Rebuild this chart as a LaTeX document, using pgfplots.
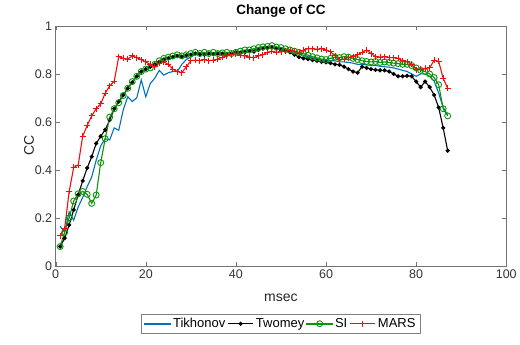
\documentclass[border=0pt]{standalone}
\usepackage{pgfplots}
\pgfplotsset{compat=1.18}
\usepackage{fontspec}
\setmainfont{Liberation Sans}

\definecolor{mblue}{rgb}{0,0.447,0.741}
\definecolor{mgreen}{rgb}{0.05,0.58,0.05}
\definecolor{mred}{rgb}{0.95,0.05,0.05}

% legend samples: a coloured stroke with one marker in the middle
\pgfplotsset{
  fill leg/.style={legend image code/.code={%
    \fill[#1] (0cm,-0.55pt) rectangle (0.9cm,0.55pt);
    \path[##1] plot coordinates {(0.45cm,0cm)};}},
  draw leg/.style={legend image code/.code={%
    \draw[#1, line width=1.1pt] (0cm,0cm) -- (0.9cm,0cm);
    \path[##1] plot coordinates {(0.45cm,0cm)};}},
}

\begin{document}
\begin{tikzpicture}
\begin{axis}[
  scale only axis,
  width=451pt, height=240pt,
  xmin=0, xmax=100, ymin=0, ymax=1,
  xtick={0,20,40,60,80,100},
  ytick={0,0.2,0.4,0.6,0.8,1},
  yticklabels={0,0.2,0.4,0.6,0.8,1},
  tick align=inside,
  tick pos=both,
  major tick length=4pt,
  axis line style={black!55},
  tick style={black!55},
  /pgf/number format/assume math mode=true,
  tick label style={font=\fontsize{12.5}{14}\selectfont, text=black!80},
  title={\bfseries Change of CC},
  title style={font=\fontsize{13.5}{15}\selectfont, yshift=-1pt},
  xlabel={msec}, ylabel={CC},
  label style={font=\fontsize{14}{16}\selectfont, text=black!85},
  xlabel style={yshift=-9pt},
  ylabel style={yshift=-6pt},
  legend columns=4,
  legend style={at={(0.5,-0.2417)}, anchor=center,
    font=\fontsize{13}{15}\selectfont, draw=black!50},
]
% Tikhonov
\addplot[mblue, line width=1.1pt, no marks, fill leg=mblue] coordinates {
(1,0.165)(2,0.14)(3,0.225)(4,0.19)(5,0.245)(6,0.285)(7,0.33)(8,0.37)(9,0.44)(10,0.5)
(11,0.53)(12,0.525)(13,0.575)(14,0.565)(15,0.65)(16,0.705)(17,0.685)(18,0.7)(19,0.775)(20,0.705)
(21,0.76)(22,0.782)(23,0.815)(24,0.795)(25,0.805)(26,0.81)(27,0.81)(28,0.84)(29,0.86)(30,0.87)
(31,0.882)(32,0.88)(33,0.885)(34,0.88)(35,0.885)(36,0.88)(37,0.883)(38,0.885)(39,0.88)(40,0.885)
(41,0.89)(42,0.895)(43,0.895)(44,0.9)(45,0.905)(46,0.908)(47,0.91)(48,0.912)(49,0.908)(50,0.905)
(51,0.9)(52,0.895)(53,0.89)(54,0.883)(55,0.878)(56,0.872)(57,0.866)(58,0.862)(59,0.858)(60,0.856)
(61,0.855)(62,0.855)(63,0.85)(64,0.85)(65,0.848)(66,0.845)(67,0.84)(68,0.84)(69,0.838)(70,0.835)
(71,0.835)(72,0.832)(73,0.83)(74,0.828)(75,0.825)(76,0.82)(77,0.815)(78,0.81)(79,0.8)(80,0.79)
(81,0.8)(82,0.8)(83,0.79)(84,0.77)(85,0.72)(86,0.66)(87,0.63)
};
\addlegendentry{Tikhonov}
% Twomey
\addplot[black, line width=1.1pt, mark=*, mark size=1.5pt, draw leg=black] coordinates {
(1,0.08)(2,0.115)(3,0.17)(4,0.233)(5,0.296)(6,0.354)(7,0.408)(8,0.455)(9,0.51)(10,0.54)
(11,0.567)(12,0.608)(13,0.655)(14,0.685)(15,0.712)(16,0.74)(17,0.765)(18,0.79)(19,0.81)(20,0.82)
(21,0.83)(22,0.84)(23,0.85)(24,0.86)(25,0.865)(26,0.87)(27,0.875)(28,0.872)(29,0.878)(30,0.88)
(31,0.885)(32,0.882)(33,0.88)(34,0.885)(35,0.882)(36,0.885)(37,0.885)(38,0.88)(39,0.885)(40,0.89)
(41,0.888)(42,0.89)(43,0.895)(44,0.893)(45,0.9)(46,0.905)(47,0.908)(48,0.91)(49,0.905)(50,0.9)
(51,0.895)(52,0.89)(53,0.88)(54,0.87)(55,0.865)(56,0.862)(57,0.858)(58,0.855)(59,0.85)(60,0.848)
(61,0.845)(62,0.84)(63,0.838)(64,0.83)(65,0.82)(66,0.81)(67,0.805)(68,0.83)(69,0.825)(70,0.82)
(71,0.817)(72,0.815)(73,0.815)(74,0.81)(75,0.8)(76,0.79)(77,0.79)(78,0.792)(79,0.79)(80,0.768)
(81,0.745)(82,0.768)(83,0.745)(84,0.712)(85,0.66)(86,0.575)(87,0.48)
};
\addlegendentry{Twomey}
% SI
\addplot[mgreen, line width=1.1pt, mark=o, mark size=3pt, mark options={line width=0.9pt}, fill leg=mgreen] coordinates {
(1,0.08)(2,0.14)(3,0.2)(4,0.27)(5,0.3)(6,0.31)(7,0.298)(8,0.26)(9,0.295)(10,0.43)
(11,0.53)(12,0.62)(13,0.655)(14,0.68)(15,0.71)(16,0.74)(17,0.768)(18,0.79)(19,0.81)(20,0.82)
(21,0.825)(22,0.84)(23,0.855)(24,0.865)(25,0.87)(26,0.875)(27,0.88)(28,0.875)(29,0.88)(30,0.885)
(31,0.89)(32,0.885)(33,0.89)(34,0.885)(35,0.89)(36,0.885)(37,0.888)(38,0.89)(39,0.885)(40,0.89)
(41,0.895)(42,0.9)(43,0.9)(44,0.905)(45,0.91)(46,0.913)(47,0.915)(48,0.918)(49,0.912)(50,0.91)
(51,0.905)(52,0.9)(53,0.895)(54,0.89)(55,0.885)(56,0.878)(57,0.872)(58,0.867)(59,0.862)(60,0.86)
(61,0.865)(62,0.87)(63,0.868)(64,0.872)(65,0.87)(66,0.865)(67,0.86)(68,0.855)(69,0.852)(70,0.85)
(71,0.852)(72,0.848)(73,0.85)(74,0.848)(75,0.845)(76,0.843)(77,0.84)(78,0.84)(79,0.835)(80,0.825)
(81,0.815)(82,0.81)(83,0.8)(84,0.785)(85,0.755)(86,0.655)(87,0.625)
};
\addlegendentry{SI}
% MARS
\addplot[mred, line width=1.1pt, mark=+, mark size=3pt, mark options={line width=0.9pt}, draw leg=mred] coordinates {
(1,0.125)(2,0.155)(3,0.31)(4,0.41)(5,0.42)(6,0.54)(7,0.585)(8,0.625)(9,0.655)(10,0.675)
(11,0.72)(12,0.75)(13,0.77)(14,0.872)(15,0.865)(16,0.862)(17,0.875)(18,0.868)(19,0.86)(20,0.85)
(21,0.84)(22,0.83)(23,0.845)(24,0.85)(25,0.84)(26,0.82)(27,0.81)(28,0.805)(29,0.83)(30,0.855)
(31,0.858)(32,0.855)(33,0.86)(34,0.855)(35,0.858)(36,0.862)(37,0.87)(38,0.875)(39,0.88)(40,0.885)
(41,0.878)(42,0.875)(43,0.87)(44,0.868)(45,0.875)(46,0.88)(47,0.89)(48,0.895)(49,0.89)(50,0.892)
(51,0.895)(52,0.9)(53,0.895)(54,0.887)(55,0.9)(56,0.905)(57,0.905)(58,0.903)(59,0.905)(60,0.9)
(61,0.893)(62,0.875)(63,0.86)(64,0.862)(65,0.868)(66,0.872)(67,0.88)(68,0.89)(69,0.9)(70,0.885)
(71,0.872)(72,0.87)(73,0.872)(74,0.868)(75,0.868)(76,0.865)(77,0.855)(78,0.85)(79,0.84)(80,0.818)
(81,0.82)(82,0.823)(83,0.825)(84,0.858)(85,0.852)(86,0.782)(87,0.74)
};
\addlegendentry{MARS}
\end{axis}
\path[use as bounding box] (-55.7pt,-79pt) rectangle (464.3pt,266pt);
\end{tikzpicture}
\end{document}
